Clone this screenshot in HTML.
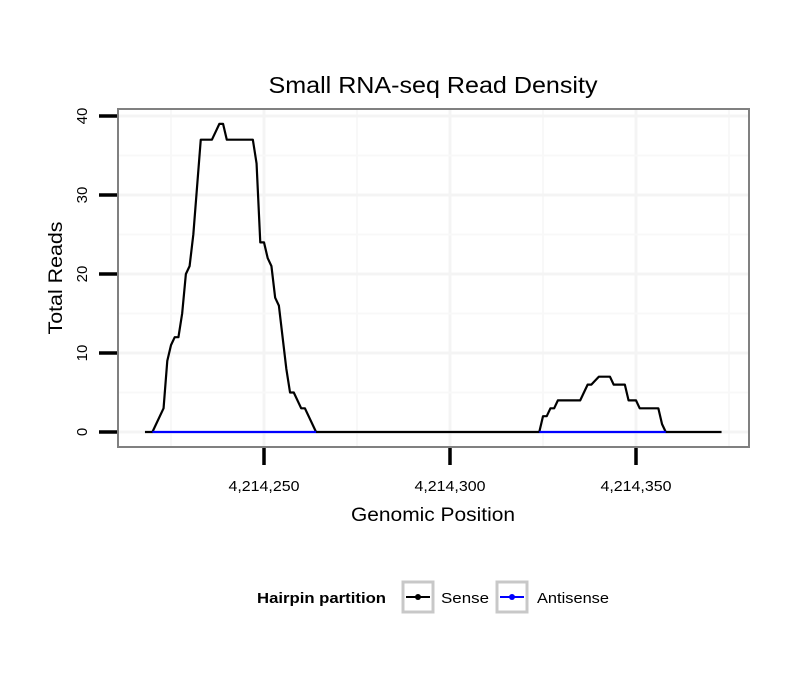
<!DOCTYPE html>
<html><head><meta charset="utf-8"><style>body{margin:0;background:#fff}svg{font-family:"Liberation Sans",sans-serif}</style></head>
<body>
<svg id="c" width="810" height="690" xmlns="http://www.w3.org/2000/svg"></svg>
<script>
const sensePos=[4214218,4214220,4214223,4214224,4214225,4214226,4214227,4214228,4214229,4214230,4214231,4214232,4214233,4214236,4214237,4214238,4214239,4214240,4214247,4214248,4214249,4214250,4214251,4214252,4214253,4214254,4214255,4214256,4214257,4214258,4214260,4214261,4214264,4214324,4214325,4214326,4214327,4214328,4214329,4214335,4214337,4214338,4214340,4214343,4214344,4214347,4214348,4214350,4214351,4214356,4214357,4214358,4214373];
const senseVal=[0,0,3,9,11,12,12,15,20,21,25,31,37,37,38,39,39,37,37,34,24,24,22,21,17,16,12,8,5,5,3,3,0,0,2,2,3,3,4,4,6,6,7,7,6,6,4,4,3,3,1,0,0];
const antiSegs=[[4214220,4214264],[4214324,4214358]];
const xTicks=[4214250,4214300,4214350];
const xTickLabels=["4,214,250","4,214,300","4,214,350"];
const yTicks=[0,10,20,30,40];
const NS="http://www.w3.org/2000/svg";
const svg=document.getElementById('c');
const X=v=>264+(v-4214250)*3.72;
const Y=v=>432-v*7.9;
function el(t,a,p){const e=document.createElementNS(NS,t);for(const k in a)e.setAttribute(k,a[k]);(p||svg).appendChild(e);return e;}
const panel=el('rect',{x:118,y:109,width:631,height:338,fill:'#fff'});


[4214225,4214275,4214325,4214375].forEach(v=>{const g=el('line',{x1:X(v),x2:X(v),y1:109,y2:447,stroke:'#f8f8f8','stroke-width':2});});
xTicks.forEach(v=>{const g=el('line',{x1:X(v),x2:X(v),y1:109,y2:447,stroke:'#f4f4f4','stroke-width':3});});
[5,15,25,35].forEach(v=>{const g=el('line',{x1:118,x2:749,y1:Y(v),y2:Y(v),stroke:'#f8f8f8','stroke-width':2});});
yTicks.forEach(v=>{const g=el('line',{x1:118,x2:749,y1:Y(v),y2:Y(v),stroke:'#f4f4f4','stroke-width':3});});
const sl=el('polyline',{points:sensePos.map((p,i)=>X(p)+','+Y(senseVal[i])).join(' '),fill:'none',stroke:'#000','stroke-width':2.2,'stroke-linejoin':'round'});


antiSegs.forEach(s=>{const a=el('line',{x1:X(s[0]),x2:X(s[1]),y1:Y(0),y2:Y(0),stroke:'#0000ff','stroke-width':2.2});});
const bd=el('rect',{x:118,y:109,width:631,height:338,fill:'none',stroke:'#808080','stroke-width':2});


yTicks.forEach(v=>{const t=el('line',{x1:99,x2:117,y1:Y(v),y2:Y(v),stroke:'#000','stroke-width':3.5});
const l=el('text',{x:0,y:0,transform:`translate(87,${Y(v)}) rotate(-90)`,'text-anchor':'middle','font-size':15});l.textContent=v;});
xTicks.forEach((v,i)=>{const t=el('line',{x1:X(v),x2:X(v),y1:448,y2:465,stroke:'#000','stroke-width':3.5});
const l=el('text',{x:X(v),y:491,'text-anchor':'middle','font-size':15,textLength:71,lengthAdjust:'spacingAndGlyphs'});l.textContent=xTickLabels[i];});
</script>
<svg width="810" height="690" style="position:absolute;left:0;top:0" xmlns="http://www.w3.org/2000/svg" font-family="Liberation Sans, sans-serif">
<text x="433" y="93" text-anchor="middle" font-size="23" textLength="329" lengthAdjust="spacingAndGlyphs">Small RNA-seq Read Density</text>
<text transform="translate(62,278) rotate(-90)" text-anchor="middle" font-size="19" textLength="113" lengthAdjust="spacingAndGlyphs">Total Reads</text>
<text x="433" y="521" text-anchor="middle" font-size="19" textLength="164" lengthAdjust="spacingAndGlyphs">Genomic Position</text>
<g>
<text x="257" y="603" font-size="15" font-weight="bold" textLength="129" lengthAdjust="spacingAndGlyphs">Hairpin partition</text>
<g>
<rect x="403" y="582" width="30" height="30" fill="#fff" stroke="#c8c8c8" stroke-width="3"/>
<line x1="406" x2="430" y1="597" y2="597" stroke="#000" stroke-width="2"/><circle cx="418" cy="597" r="3" fill="#000"/>
<text x="441" y="603" font-size="15" textLength="48" lengthAdjust="spacingAndGlyphs">Sense</text></g>
<g>
<rect x="497" y="582" width="30" height="30" fill="#fff" stroke="#c8c8c8" stroke-width="3"/>
<line x1="500" x2="524" y1="597" y2="597" stroke="#0000ff" stroke-width="2"/><circle cx="512" cy="597" r="3" fill="#0000ff"/>
<text x="537" y="603" font-size="15" textLength="72" lengthAdjust="spacingAndGlyphs">Antisense</text></g>
</g>
</svg>
</body></html>
